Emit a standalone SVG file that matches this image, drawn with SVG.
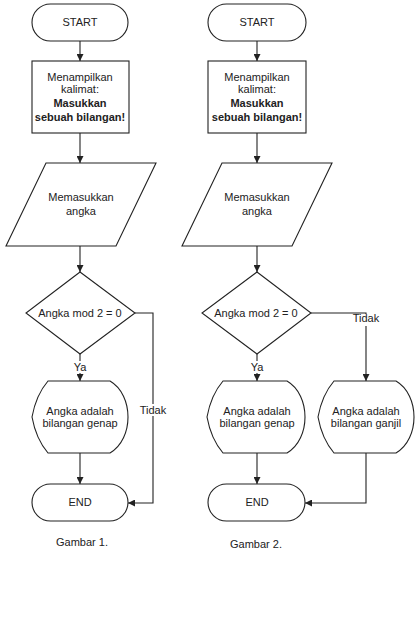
<svg xmlns="http://www.w3.org/2000/svg" width="416" height="630" viewBox="0 0 416 630">
<style>
.s{fill:#fff;stroke:#222;stroke-width:1.1}
.c{fill:none;stroke:#222;stroke-width:1.1}
text{font-family:"Liberation Sans",Arial,sans-serif;font-size:11px;fill:#222;text-anchor:middle}
.b{font-weight:bold}
.lb{fill:#fff;stroke:none}
</style>
<defs>
<marker id="ah" viewBox="0 0 10 10" refX="10" refY="5" markerWidth="7" markerHeight="7" markerUnits="userSpaceOnUse" orient="auto">
<path d="M0,0 L10,5 L0,10 Z" fill="#222"/>
</marker>
</defs>
<rect width="416" height="630" fill="#fff"/>
<g id="connectors">
<path class="c" d="M80,41 V61" marker-end="url(#ah)"/>
<path class="c" d="M80,133 V163" marker-end="url(#ah)"/>
<path class="c" d="M80,246 V272" marker-end="url(#ah)"/>
<path class="c" d="M80,354 V381" marker-end="url(#ah)"/>
<path class="c" d="M80,453 V484" marker-end="url(#ah)"/>
<path class="c" d="M135,313 H153 V503 H128" marker-end="url(#ah)"/>
<path class="c" d="M257,41 V61" marker-end="url(#ah)"/>
<path class="c" d="M257,133 V163" marker-end="url(#ah)"/>
<path class="c" d="M257,246 V272" marker-end="url(#ah)"/>
<path class="c" d="M257,354 V381" marker-end="url(#ah)"/>
<path class="c" d="M257,453 V484" marker-end="url(#ah)"/>
<path class="c" d="M311,313 H366 V381" marker-end="url(#ah)"/>
<path class="c" d="M366,453 V503 H305" marker-end="url(#ah)"/>
<rect class="lb" x="73" y="361" width="14" height="12"/>
<text x="80" y="371">Ya</text>
<rect class="lb" x="140" y="404" width="26" height="12"/>
<text x="153" y="414">Tidak</text>
<rect class="lb" x="250" y="361" width="14" height="12"/>
<text x="257" y="371">Ya</text>
<rect class="lb" x="353" y="314" width="26" height="12"/>
<text x="366" y="322">Tidak</text>
</g>
<g id="start1"><rect class="s" x="32" y="4" width="96" height="37" rx="18.5"/><text x="80" y="26">START</text></g>
<g id="proc1"><rect class="s" x="32" y="61" width="97" height="72"/>
<text x="80" y="81">Menampilkan</text><text x="80" y="93">kalimat:</text>
<text class="b" x="80" y="107">Masukkan</text><text class="b" x="80" y="121">sebuah bilangan!</text></g>
<g id="input1"><path class="s" d="M46,163 H156 L116,246 H6 Z"/><text x="81" y="201">Memasukkan</text><text x="81" y="215">angka</text></g>
<g id="dec1"><path class="s" d="M80,272 L135,313 L80,354 L26,313 Z"/><text x="80" y="317">Angka mod 2 = 0</text></g>
<g id="disp1"><path class="s" d="M48,381 H110 C134,395 134,439 110,453 H48 Q36,439 32,417 Q36,395 48,381 Z"/><text x="80" y="415">Angka adalah</text><text x="80" y="427">bilangan genap</text></g>
<g id="end1"><rect class="s" x="32" y="484" width="96" height="37" rx="18.5"/><text x="80" y="506">END</text></g>
<text x="82" y="546">Gambar 1.</text>
<g id="start2"><rect class="s" x="208" y="4" width="98" height="37" rx="18.5"/><text x="257" y="26">START</text></g>
<g id="proc2"><rect class="s" x="208" y="61" width="98" height="72"/>
<text x="257" y="81">Menampilkan</text><text x="257" y="93">kalimat:</text>
<text class="b" x="257" y="107">Masukkan</text><text class="b" x="257" y="121">sebuah bilangan!</text></g>
<g id="input2"><path class="s" d="M222,163 H332 L292,246 H182 Z"/><text x="257" y="201">Memasukkan</text><text x="257" y="215">angka</text></g>
<g id="dec2"><path class="s" d="M257,272 L311,313 L257,354 L202,313 Z"/><text x="256" y="317">Angka mod 2 = 0</text></g>
<g id="disp2"><path class="s" d="M223,381 H287 C311,395 311,439 287,453 H223 Q211,439 207,417 Q211,395 223,381 Z"/><text x="257" y="415">Angka adalah</text><text x="257" y="427">bilangan genap</text></g>
<g id="disp3"><path class="s" d="M334,381 H396 C420,395 420,439 396,453 H334 Q322,439 318,417 Q322,395 334,381 Z"/><text x="366" y="415">Angka adalah</text><text x="366" y="427">bilangan ganjil</text></g>
<g id="end2"><rect class="s" x="208" y="484" width="97" height="37" rx="18.5"/><text x="257" y="506">END</text></g>
<text x="256" y="548">Gambar 2.</text>
</svg>
